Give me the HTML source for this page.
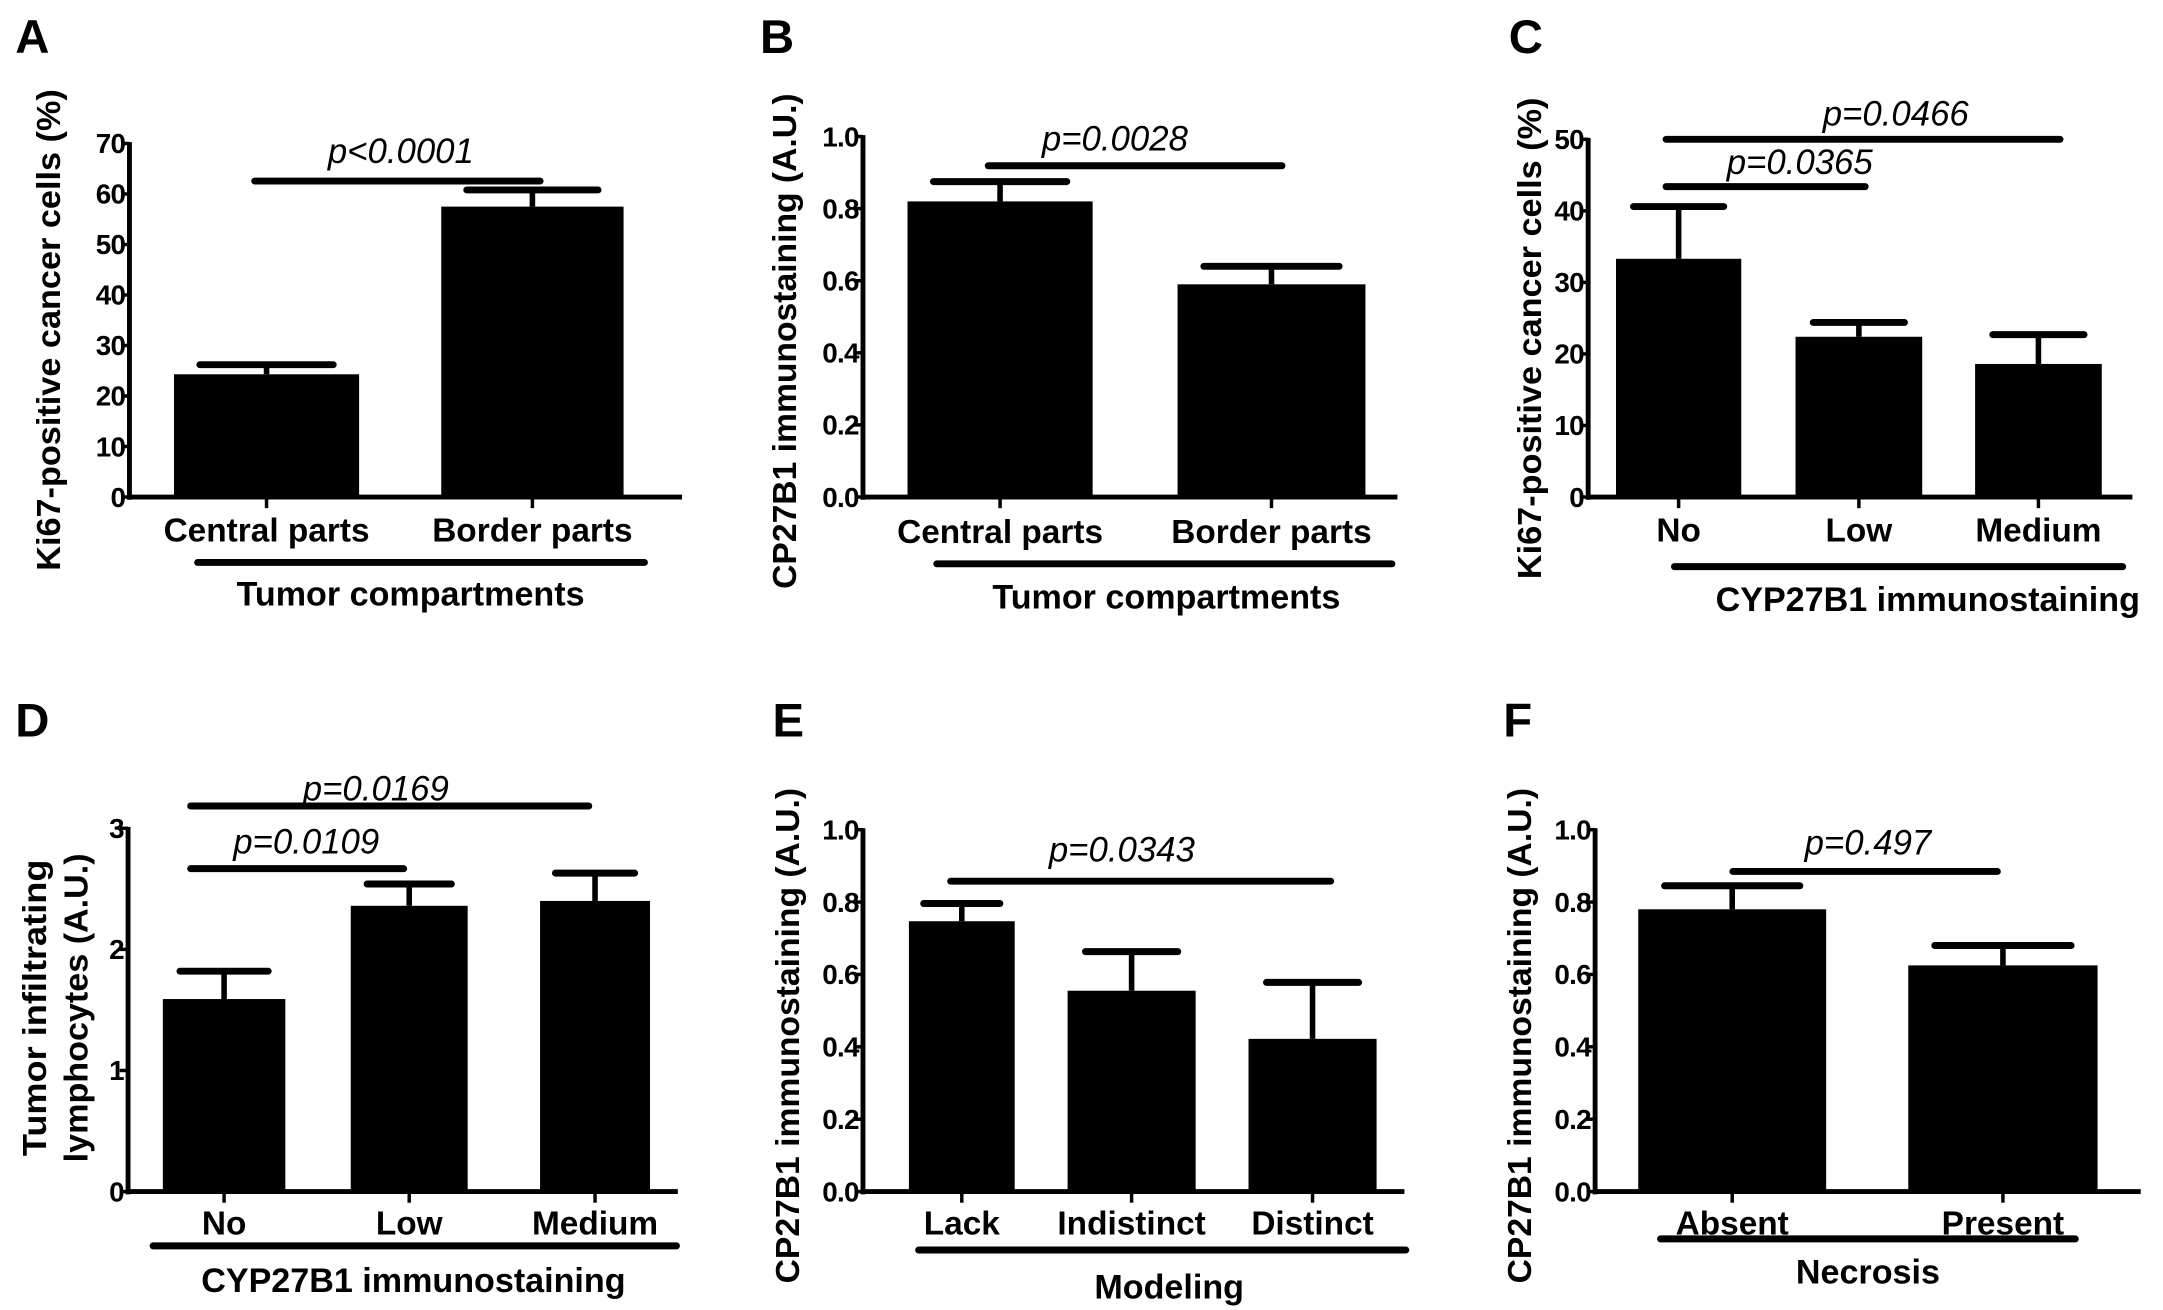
<!DOCTYPE html>
<html><head><meta charset="utf-8"><style>
html,body{margin:0;padding:0;background:#fff;}
svg{display:block;}
text{font-family:"Liberation Sans",Arial,sans-serif;fill:#000;}
</style></head><body>
<svg id="fig" width="2163" height="1310" viewBox="0 0 1554 941" xmlns="http://www.w3.org/2000/svg"></svg>
<script>
// Panel A
const catsA = ["Central parts","Border parts"];
const valsA = [24.3, 57.5];
const errA = [26.2, 60.8];
const ticksA = ["0","10","20","30","40","50","60","70"];
// Panel B
const catsB = ["Central parts","Border parts"];
const valsB = [0.82, 0.59];
const errB = [0.875, 0.64];
const ticksB = ["0.0","0.2","0.4","0.6","0.8","1.0"];
// Panel C
const catsC = ["No","Low","Medium"];
const valsC = [33.3, 22.4, 18.6];
const errC = [40.6, 24.4, 22.7];
const ticksC = ["0","10","20","30","40","50"];
// Panel D
const catsD = ["No","Low","Medium"];
const valsD = [1.59, 2.36, 2.40];
const errD = [1.82, 2.54, 2.63];
const ticksD = ["0","1","2","3"];
// Panel E
const catsE = ["Lack","Indistinct","Distinct"];
const valsE = [0.747, 0.555, 0.422];
const errE = [0.796, 0.663, 0.578];
const ticksE = ["0.0","0.2","0.4","0.6","0.8","1.0"];
// Panel F
const catsF = ["Absent","Present"];
const valsF = [0.78, 0.625];
const errF = [0.845, 0.68];
const ticksF = ["0.0","0.2","0.4","0.6","0.8","1.0"];

const NS="http://www.w3.org/2000/svg";
const svg=document.getElementById('fig');
function mk(tag,attrs,parent){const e=document.createElementNS(NS,tag);for(const k in attrs)e.setAttribute(k,attrs[k]);(parent||svg).appendChild(e);return e;}
function txt(s,attrs,parent){const e=mk('text',attrs,parent);e.textContent=s;return e;}

function panel(p){
  const g=mk('g',{});
  
  
  const ymax=parseFloat(p.ticks[p.ticks.length-1]);
  const y=v=>p.y0-(v/ymax)*(p.y0-p.yTop);
  const lt=txt(p.id,{x:p.lx,y:p.ly,'font-size':34,'font-weight':'bold'},g);
  
  
  const ya=mk('line',{x1:p.ax,y1:p.yTop-1,x2:p.ax,y2:p.y0+2,stroke:'#000','stroke-width':3.5},g);
  
  
  const xa=mk('line',{x1:p.ax-1,y1:p.y0,x2:p.xEnd,y2:p.y0,stroke:'#000','stroke-width':3.5},g);
  
  
  p.ticks.forEach(t=>{
    const yy=y(parseFloat(t));
    mk('line',{x1:p.ax-6,y1:yy,x2:p.ax,y2:yy,stroke:'#000','stroke-width':2.5},g);
    const tl=txt(t,{x:p.ax-3,y:yy+7,'font-size':20,'font-weight':'bold','text-anchor':'end','letter-spacing':'-0.5'},g);
    
    
  });
  p.cats.forEach((c,i)=>{
    const [l,r]=p.bars[i];const cx=(l+r)/2;
    const capW=(r-l)*0.36;
    const eb=mk('line',{x1:cx,y1:y(p.vals[i]),x2:cx,y2:y(p.errs[i]),stroke:'#000','stroke-width':4},g);
    
    
    const cap=mk('line',{x1:cx-capW,y1:y(p.errs[i]),x2:cx+capW,y2:y(p.errs[i]),stroke:'#000','stroke-width':5,'stroke-linecap':'round'},g);
    
    
    const b=mk('rect',{x:l,y:y(p.vals[i]),width:r-l,height:p.y0-y(p.vals[i]),fill:'#000'},g);
    
    
    mk('line',{x1:cx,y1:p.y0,x2:cx,y2:p.y0+8,stroke:'#000','stroke-width':2.5},g);
    const cl=txt(c,{x:cx,y:p.catY,'font-size':24,'font-weight':'bold','text-anchor':'middle'},g);
    
    
  });
  const ul=mk('line',{x1:p.ul[0],y1:p.ul[2],x2:p.ul[1],y2:p.ul[2],stroke:'#000','stroke-width':5,'stroke-linecap':'round'},g);
  
  
  const xt=txt(p.xTitle,{x:p.xt[0],y:p.xt[1],'font-size':24.5,'font-weight':'bold','text-anchor':'middle'},g);
  
  
  const yt=txt('',{transform:`translate(${p.yt[0]},${p.yt[1]}) rotate(-90)`,'font-size':24,'font-weight':'bold','text-anchor':'middle'},g);
  
  
  p.yTitle.forEach((s,k)=>{const ts=document.createElementNS(NS,'tspan');ts.setAttribute('x',0);ts.setAttribute('y',k*30-(p.yTitle.length-1)*15+8);ts.setAttribute('textLength',p.yLen[k]);ts.setAttribute('lengthAdjust','spacingAndGlyphs');ts.textContent=s;yt.appendChild(ts);});
  p.sig.forEach(s=>{
    const sl=mk('line',{x1:s.x1,y1:s.y,x2:s.x2,y2:s.y,stroke:'#000','stroke-width':5,'stroke-linecap':'round'},g);
    
    
    const st=txt(s.t,{x:s.tx,y:s.ty,'font-size':25,'font-style':'italic','text-anchor':'middle'},g);
    
    
  });
}

panel({id:'A',lx:11,ly:38,ax:93,yTop:103,y0:357,xEnd:490,ticks:ticksA,cats:catsA,vals:valsA,errs:errA,
  bars:[[125,258],[317,448]],catY:389,ul:[142,463,404],xTitle:'Tumor compartments',xt:[295,435],
  yTitle:['Ki67-positive cancer cells (%)'],yLen:[346],yt:[35,237],
  sig:[{x1:183,x2:388,y:130,t:'p<0.0001',tx:288,ty:117}]});
panel({id:'B',lx:546,ly:38,ax:620,yTop:98,y0:357,xEnd:1004,ticks:ticksB,cats:catsB,vals:valsB,errs:errB,
  bars:[[652,785],[846,981]],catY:390,ul:[673,1000,405],xTitle:'Tumor compartments',xt:[838,437],
  yTitle:['CP27B1 immunostaining (A.U.)'],yLen:[356],yt:[564,245],
  sig:[{x1:710,x2:921,y:119,t:'p=0.0028',tx:801,ty:108}]});
panel({id:'C',lx:1084,ly:38,ax:1141,yTop:100,y0:357,xEnd:1532,ticks:ticksC,cats:catsC,vals:valsC,errs:errC,
  bars:[[1161,1251],[1290,1381],[1419,1510]],catY:389,ul:[1203,1525,407],xTitle:'CYP27B1 immunostaining',xt:[1385,439],
  yTitle:['Ki67-positive cancer cells (%)'],yLen:[346],yt:[1099,243],
  sig:[{x1:1197,x2:1480,y:100,t:'p=0.0466',tx:1362,ty:90},{x1:1197,x2:1340,y:134,t:'p=0.0365',tx:1293,ty:125}]});
panel({id:'D',lx:11,ly:529,ax:92,yTop:595,y0:856,xEnd:487,ticks:ticksD,cats:catsD,vals:valsD,errs:errD,
  bars:[[117,205],[252,336],[388,467]],catY:887,ul:[110,486,895],xTitle:'CYP27B1 immunostaining',xt:[297,928],
  yTitle:['Tumor infiltrating','lymphocytes (A.U.)'],yLen:[213,222],yt:[40,724],
  sig:[{x1:137,x2:423,y:579,t:'p=0.0169',tx:270,ty:575},{x1:137,x2:290,y:624,t:'p=0.0109',tx:220,ty:613}]});
panel({id:'E',lx:555,ly:529,ax:620,yTop:596,y0:856,xEnd:1009,ticks:ticksE,cats:catsE,vals:valsE,errs:errE,
  bars:[[653,729],[767,859],[897,989]],catY:887,ul:[660,1010,898],xTitle:'Modeling',xt:[840,933],
  yTitle:['CP27B1 immunostaining (A.U.)'],yLen:[356],yt:[566,744],
  sig:[{x1:683,x2:956,y:633,t:'p=0.0343',tx:806,ty:619}]});
panel({id:'F',lx:1080,ly:529,ax:1146,yTop:596,y0:856,xEnd:1538,ticks:ticksF,cats:catsF,vals:valsF,errs:errF,
  bars:[[1177,1312],[1371,1507]],catY:887,ul:[1193,1491,890],xTitle:'Necrosis',xt:[1342,922],
  yTitle:['CP27B1 immunostaining (A.U.)'],yLen:[356],yt:[1092,744],
  sig:[{x1:1245,x2:1435,y:626,t:'p=0.497',tx:1342,ty:614}]});
</script>
</body></html>
